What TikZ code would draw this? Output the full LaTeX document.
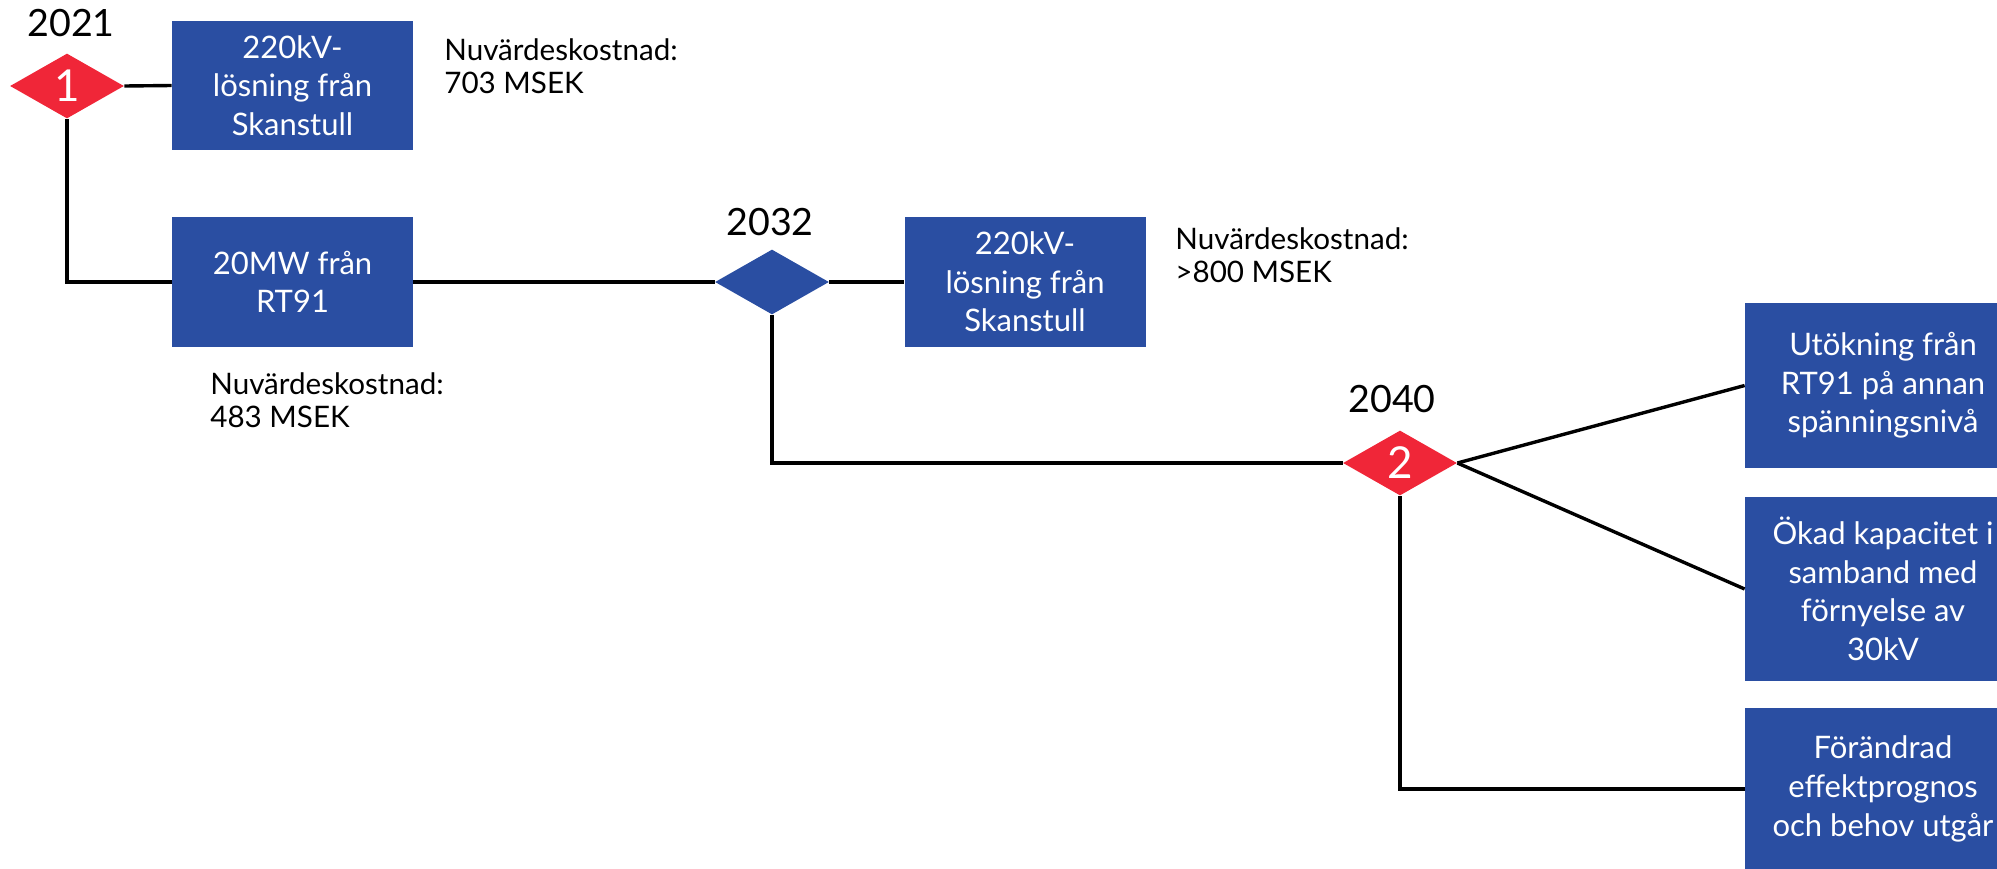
\documentclass[tikz,border=0pt]{standalone}
\usepackage{fontspec}
\setmainfont{Lato}
\usetikzlibrary{shapes.geometric}
\definecolor{boxblue}{RGB}{42,78,162}
\definecolor{markred}{RGB}{240,38,56}
\begin{document}
\begin{tikzpicture}[x=0.5pt,y=-0.5pt,
  box/.style={fill=boxblue, text=white, inner sep=0pt, align=center, font=\fontsize{15.5}{19.3}\selectfont},
  dia/.style={diamond, inner sep=0pt, minimum width=57pt, minimum height=32.5pt},
  reddia/.style={dia, fill=markred, text=white, font=\fontsize{22}{22}\selectfont},
  bluedia/.style={dia, fill=boxblue},
  year/.style={font=\fontsize{18.8}{20}\selectfont, inner sep=0pt},
  cost/.style={font=\fontsize{14.8}{16.5}\selectfont, align=left, anchor=north west, inner sep=0pt},
  conn/.style={line width=1.7pt, black}
]
\useasboundingbox (0,0) rectangle (1997,868);
\clip (0,0) rectangle (1997,868);

% years
\node[year] (y1) at (71,23) {2021};
\node[year] (y2) at (770,222) {2032};
\node[year] (y3) at (1392,399) {2040};

% decision diamonds
\node[reddia] (d1) at (67,86) {1};
\node[bluedia] (d2) at (772,282) {};
\node[reddia] (d3) at (1400,463) {2};

% boxes
\node[box, minimum width=120.5pt, minimum height=64.5pt] (b1) at (292.5,85.5) {220kV-\\lösning från\\Skanstull};
\node[box, minimum width=120.5pt, minimum height=65pt] (b2) at (292.5,282) {20MW från\\RT91};
\node[box, minimum width=120.5pt, minimum height=65pt] (b3) at (1025,282) {220kV-\\lösning från\\Skanstull};
\node[box, minimum width=138pt, minimum height=82.5pt] (bA) at (1883,385.5) {Utökning från\\RT91 på annan\\spänningsnivå};
\node[box, minimum width=138pt, minimum height=92pt] (bB) at (1883,589) {Ökad kapacitet i\\samband med\\förnyelse av\\30kV};
\node[box, minimum width=138pt, minimum height=81pt] (bC) at (1883,789) {Förändrad\\effektprognos\\och behov utgår};

% cost notes
\node[cost] (c1) at (444,38) {Nuvärdeskostnad:\\703 MSEK};
\node[cost] (c2) at (1175,227) {Nuvärdeskostnad:\\>800 MSEK};
\node[cost] (c3) at (210,372) {Nuvärdeskostnad:\\483 MSEK};

% connectors
\draw[conn] (d1.east) -- (b1.west);
\draw[conn] (d1.south) |- (b2.west);
\draw[conn] (b2.east) -- (d2.west);
\draw[conn] (d2.east) -- (b3.west);
\draw[conn] (d2.south) |- (d3.west);
\draw[conn] (d3.east) -- (bA.west);
\draw[conn] (d3.east) -- (bB.west);
\draw[conn] (d3.south) |- (bC.west);
\end{tikzpicture}
\end{document}
